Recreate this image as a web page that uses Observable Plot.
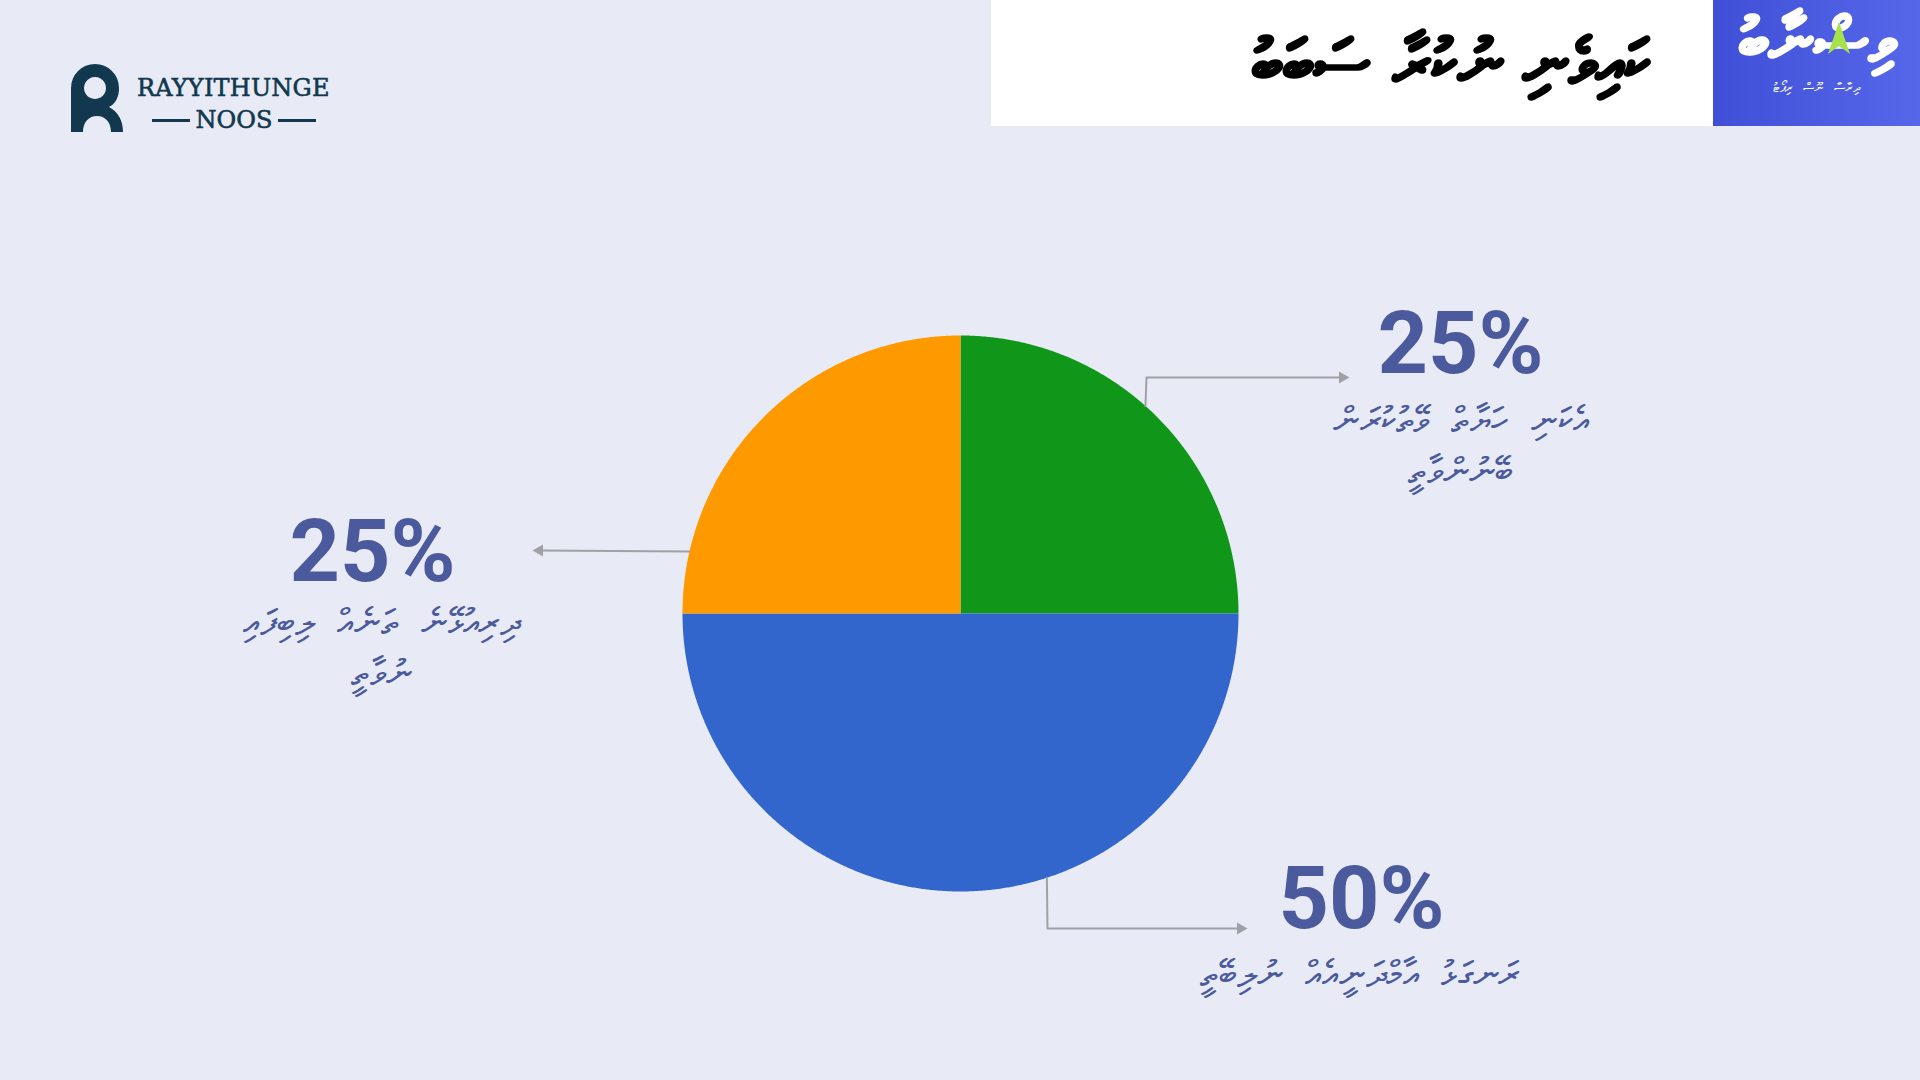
<!DOCTYPE html>
<html>
<head>
<meta charset="utf-8">
<script src="https://cdn.jsdelivr.net/npm/d3@7"></script>
<script src="https://cdn.jsdelivr.net/npm/@observablehq/plot@0.6"></script>
<style>
html,body{margin:0;padding:0;background:#E8EBF5;}
#page{position:relative;width:1920px;height:1080px;overflow:hidden;background:#E8EBF5;}
#chart{position:absolute;left:0;top:0;}
#titlebox{position:absolute;left:991px;top:0;width:722px;height:126px;background:#ffffff;display:flex;align-items:center;justify-content:flex-end;box-sizing:border-box;padding-right:62px;}
#titlebox span{font-family:"DejaVu Sans",sans-serif;font-weight:bold;font-size:64px;color:#000;direction:rtl;line-height:1;-webkit-text-stroke:1.5px #000;}
#logobox{position:absolute;left:1713px;top:0;width:207px;height:126px;background:linear-gradient(90deg,#3F50D7,#5767EA);}
#logobox .big{position:absolute;left:0;top:10px;width:207px;text-align:center;font-family:"DejaVu Sans",sans-serif;font-weight:bold;font-size:62px;color:#fff;direction:rtl;line-height:1;-webkit-text-stroke:1.5px #fff;}
#logobox .small{position:absolute;left:0;top:80px;width:207px;text-align:center;font-family:"DejaVu Sans",sans-serif;font-size:13px;color:#fff;direction:rtl;word-spacing:6px;}
#logobox svg{position:absolute;left:113px;top:22px;}
#brand{position:absolute;left:71px;top:64px;}
#brand .name{position:absolute;left:66px;top:10px;font-family:"DejaVu Serif",serif;font-size:24px;color:#12384F;white-space:nowrap;letter-spacing:0.2px;-webkit-text-stroke:0.6px #12384F;}
#brand .noos{position:absolute;left:81px;top:42px;width:164px;display:flex;align-items:center;justify-content:space-between;font-family:"DejaVu Serif",serif;font-size:24px;color:#12384F;-webkit-text-stroke:0.6px #12384F;}
#brand .noos i{display:block;width:38px;height:3px;background:#12384F;}
svg text.thaana{word-spacing:10px;}
</style>
</head>
<body>
<div id="page">
  <div id="brand">
    <svg width="52" height="68" viewBox="0 0 52 68">
      <path fill="#12384F" fill-rule="evenodd" d="M0,68 V24 A24,24 0 0 1 48,24 C48,34 44,40 38,43 C47,48 52,56 52,68 H40 C40,58 34,52 26,52 C18,52 12,58 12,68 Z M24,13 A11,11 0 1 0 24.01,13 Z"/>
    </svg>
    <div class="name">RAYYITHUNGE</div>
    <div class="noos"><i></i><span>NOOS</span><i></i></div>
  </div>
  <div id="titlebox"><span>ކައިވެނި ނުކުރާ ސަބަބު</span></div>
  <div id="logobox">
    <div class="big">ވިސްނާބު</div>
    <svg width="26" height="32" viewBox="0 0 26 32"><path d="M13,0 L24,32 L13,24 L2,32 Z" fill="#A6E34B"/></svg>
    <div class="small">ދިރާސާ ނޫސް ރިޕޯޓު</div>
  </div>
  <div id="chart"></div>
</div>
<script>
// ---- data ----
const categories = ["އެކަނި ހަޔާތް ވޭތުކުރަން\nބޭނުންވާތީ", "ރަނގަޅު އާމްދަނީއެއް ނުލިބޭތީ", "ދިރިއުޅޭނެ ތަނެއް ލިބިފައި\nނުވާތީ"];
const values = [25, 50, 25];
const sliceColors = ["#109618", "#3366CC", "#FF9900"];

// ---- layout (pixels) ----
const W = 1920, H = 1080, CX = 960, CY = 613, R = 278;
// per slice: rim angle where the leader starts, leader bend points, value/label placement
const layout = [
  {start: 41.7, path: [[1146, 377], [1342, 377]], vx: 1460, vy: 372, lx: 1460, ly: 442},
  {start: 161.9, path: [[1047, 928], [1240, 928]], vx: 1361, vy: 927, lx: 1359, ly: 970},
  {start: 282.9, path: [[539, 550]], vx: 372, vy: 580, lx: 381, ly: 644}
];
const inkColor = "#4B5A9C";
const leaderColor = "#9FA1A6";

const arcs = d3.pie().sort(null).value(d => d)(values);
const rad = a => a * Math.PI / 180;

// slice outlines (center + rim samples)
const slicePts = [];
arcs.forEach((a, i) => {
  slicePts.push({x: CX, y: CY, key: categories[i]});
  const n = Math.ceil((a.endAngle - a.startAngle) / 0.005);
  for (let k = 0; k <= n; k++) {
    const ang = a.startAngle + (a.endAngle - a.startAngle) * k / n;
    slicePts.push({x: CX + R * Math.sin(ang), y: CY - R * Math.cos(ang), key: categories[i]});
  }
  slicePts.push({x: CX, y: CY, key: categories[i]});
});

// leaders
const leaderPts = [];
const heads = [];
layout.forEach((l, i) => {
  const a = rad(l.start);
  const s = [CX + R * Math.sin(a), CY - R * Math.cos(a)];
  leaderPts.push({x: s[0], y: s[1], key: i});
  l.path.forEach(p => leaderPts.push({x: p[0], y: p[1], key: i}));
  const last = l.path[l.path.length - 1];
  const prev = l.path.length > 1 ? l.path[l.path.length - 2] : s;
  heads.push({x: last[0], y: last[1], rot: last[0] > prev[0] ? 90 : -90});
});

const textRows = values.map((v, i) => ({
  pct: v + "%", label: categories[i],
  vx: layout[i].vx, vy: layout[i].vy, lx: layout[i].lx, ly: layout[i].ly
}));

const chart = Plot.plot({
  width: W, height: H, margin: 0,
  style: {background: "transparent", overflow: "visible"},
  x: {type: "linear", domain: [0, W], range: [0, W], axis: null},
  y: {type: "linear", domain: [0, H], range: [0, H], axis: null},
  color: {domain: categories, range: sliceColors},
  marks: [
    Plot.line(slicePts, {x: "x", y: "y", z: "key", fill: "key", stroke: "none", curve: "linear"}),
    Plot.line(leaderPts, {x: "x", y: "y", z: "key", stroke: leaderColor, strokeWidth: 2, curve: "linear"}),
    Plot.dot(heads, {x: "x", y: "y", symbol: "triangle", r: 4.5, fill: leaderColor, stroke: "none", rotate: "rot"}),
    Plot.text(textRows, {x: "vx", y: "vy", text: "pct", fill: inkColor, fontSize: 88, fontWeight: "bold", fontFamily: "Roboto", lineAnchor: "bottom", textAnchor: "middle"}),
    Plot.text(textRows, {x: "lx", y: "ly", text: "label", fill: inkColor, fontSize: 37, fontFamily: "DejaVu Sans", lineAnchor: "middle", textAnchor: "middle", lineHeight: 1.38})
  ]
});
// mark the Thaana label group for word spacing
d3.select(chart).selectAll("g[aria-label='text']").filter((d, i, n) => i === n.length - 1).selectAll("text").classed("thaana", true);
document.getElementById("chart").appendChild(chart);
</script>
</body>
</html>
